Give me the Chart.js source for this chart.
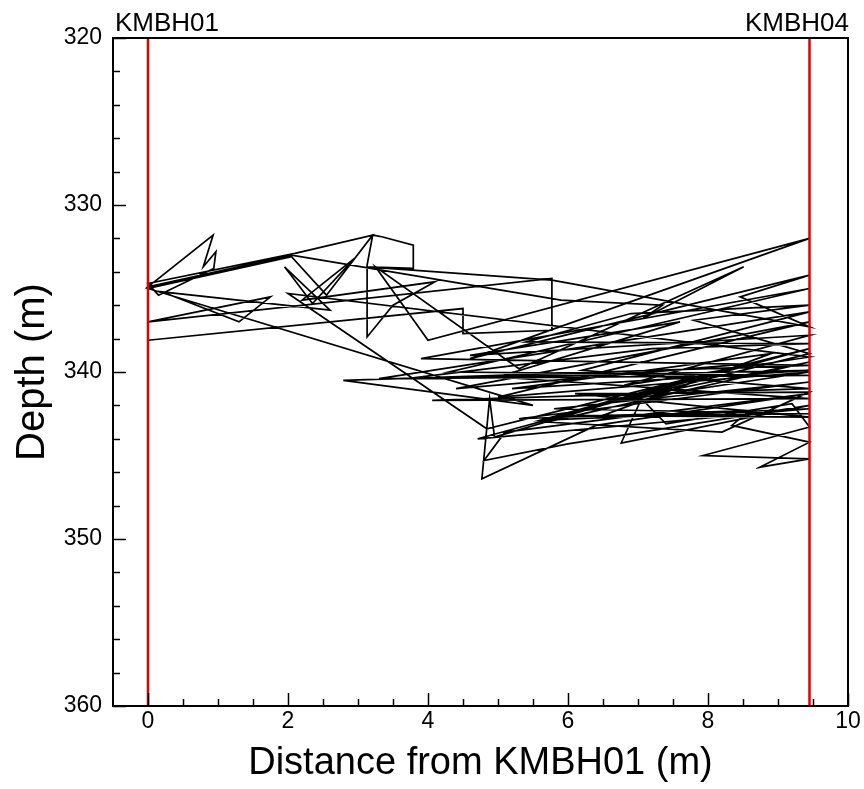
<!DOCTYPE html>
<html>
<head>
<meta charset="utf-8">
<script src="https://cdn.jsdelivr.net/npm/chart.js@4.4.1/dist/chart.umd.min.js"></script>
<style>
html,body{margin:0;padding:0;background:#fff;}
#c{display:block;}
</style>
</head>
<body>
<canvas id="c" width="864" height="789"></canvas>
<script>
// ---- data ----
const xTickValues = [0, 2, 4, 6, 8, 10];
const yTickValues = [320, 330, 340, 350, 360];
const boreholeNames = ['KMBH01', 'KMBH04'];
const boreholeX = [0, 9.45];
const depthRange = [320, 360];

const trackX = [
  0.00,4.50,4.50,5.77,5.77,0.00,1.75,1.30,0.20,2.60,
  1.95,2.35,2.95,2.20,4.10,3.50,3.13,3.13,3.21,3.34,
  3.79,3.79,3.13,5.77,9.45,8.46,9.45,4.60,9.45,4.00,
  3.25,5.30,8.51,7.07,7.35,5.90,2.05,0.00,0.93,0.79,
  0.97,0.94,0.15,0.00,2.10,3.21,2.55,2.05,0.00,5.50,
  2.79,9.45,3.90,9.45,4.30,9.45,3.30,9.45,6.20,9.45,
  4.06,9.45,5.00,7.60,4.60,9.45,6.80,9.45,2.00,4.84,
  9.45,4.71,9.45,5.60,8.10,4.95,4.88,4.77,6.40,9.45,
  5.10,4.80,6.00,9.45,6.76,7.05,7.40,9.20,9.45,7.93,
  9.45,8.74,9.45,8.34,8.60,5.30,9.45,5.80,9.45,6.50,
  8.90,5.20,9.45,3.70,7.20,9.45,5.40,6.90,9.45,7.80,
  9.45,5.90,9.45,6.10,9.45,8.20,5.70,9.45,6.60,9.45,
  5.00,9.45,4.40,8.60];
const trackDepth = [
  338.1,336.2,337.7,337.5,334.4,337.0,335.5,337.0,335.2,336.3,
  333.7,335.9,333.2,335.7,334.6,336.0,337.9,333.6,331.8,331.9,
  332.4,333.8,333.7,334.5,337.3,335.5,334.2,339.2,332.0,338.1,
  333.7,339.8,333.7,336.8,336.0,335.7,333.0,334.9,331.8,333.7,
  332.8,333.8,335.4,334.7,332.9,331.8,335.4,333.1,335.0,342.0,
  340.5,339.6,339.2,335.0,340.0,340.2,340.4,336.4,339.9,341.0,
  341.7,341.6,340.3,337.0,339.0,337.8,340.8,339.1,335.3,343.4,
  338.6,344.0,342.2,342.9,340.0,343.9,341.6,346.4,343.2,341.3,
  343.6,345.3,344.3,342.0,344.25,341.6,343.1,341.9,343.3,345.0,
  345.2,345.7,344.2,343.2,342.3,342.8,340.6,342.2,342.5,342.6,
  338.9,341.0,339.9,340.4,338.6,338.3,338.2,336.5,336.0,336.9,
  338.9,342.6,342.7,341.3,341.2,343.6,343.0,339.4,341.8,340.0,
  341.5,337.0,341.0,339.5];

// ---- build datasets ----
const trackData = trackX.map((x, i) => ({x: x, y: trackDepth[i]}));
const boreholeSets = boreholeX.map((bx, i) => ({
  label: boreholeNames[i],
  data: [{x: bx, y: depthRange[0]}, {x: bx, y: depthRange[1]}],
  borderColor: '#e00000',
  borderWidth: 2.5,
  showLine: true,
  pointRadius: 0,
  order: 0
}));

const FONT = "'Liberation Sans', Arial, sans-serif";

const decorPlugin = {
  id: 'decor',
  afterDatasetsDraw(chart) {
    const ctx = chart.ctx;
    const a = chart.chartArea;
    const xs = chart.scales.x, ys = chart.scales.y;
    ctx.save();
    ctx.strokeStyle = '#000';
    ctx.lineWidth = 1.5;
    for (let v = 0; v <= 10.001; v += 0.5) {
      const px = Math.round(xs.getPixelForValue(v)) + 0.5;
      const major = Math.abs(v / 2 - Math.round(v / 2)) < 1e-6;
      const len = major ? 13 : 7;
      ctx.beginPath();
      ctx.moveTo(px, a.bottom);
      ctx.lineTo(px, a.bottom - len);
      ctx.stroke();
    }
    for (let v = 320; v <= 360.001; v += 2) {
      const py = Math.round(ys.getPixelForValue(v)) + 0.5;
      const major = v % 10 === 0;
      const len = major ? 13 : 7;
      ctx.beginPath();
      ctx.moveTo(a.left, py);
      ctx.lineTo(a.left + len, py);
      ctx.stroke();
    }
    ctx.lineWidth = 2;
    ctx.strokeRect(a.left, a.top, a.right - a.left, a.bottom - a.top);
    ctx.fillStyle = '#000';
    ctx.font = '26px ' + FONT;
    ctx.textBaseline = 'alphabetic';
    ctx.textAlign = 'left';
    ctx.fillText(boreholeNames[0], a.left + 2, a.top - 7);
    ctx.textAlign = 'right';
    ctx.fillText(boreholeNames[1], a.right + 1, a.top - 7);
    ctx.restore();
  }
};

new Chart(document.getElementById('c'), {
  type: 'scatter',
  data: {
    datasets: boreholeSets.concat([{
      label: 'track',
      data: trackData,
      borderColor: '#000',
      borderWidth: 1.7,
      showLine: true,
      pointRadius: 0,
      tension: 0,
      order: 1
    }])
  },
  options: {
    responsive: false,
    animation: false,
    devicePixelRatio: 1,
    layout: {padding: {left: 0, top: 38, right: 16, bottom: 0}},
    plugins: {legend: {display: false}, tooltip: {enabled: false}},
    scales: {
      x: {
        type: 'linear', min: -0.5, max: 10,
        grid: {display: false, drawTicks: false},
        border: {display: false},
        afterBuildTicks: s => { s.ticks = xTickValues.map(v => ({value: v})); },
        afterFit: s => { s.height = 83; },
        ticks: {color: '#000', font: {family: FONT, size: 23}, padding: 2, autoSkip: false, maxRotation: 0},
        title: {display: true, text: 'Distance from KMBH01 (m)', color: '#000',
                font: {family: FONT, size: 38}, padding: {top: 0, bottom: 3}}
      },
      y: {
        type: 'linear', min: 320, max: 360, reverse: true,
        grid: {display: false, drawTicks: false},
        border: {display: false},
        afterBuildTicks: s => { s.ticks = yTickValues.map(v => ({value: v})); },
        afterFit: s => { s.width = 113; },
        ticks: {color: '#000', font: {family: FONT, size: 23}, padding: 11, autoSkip: false},
        title: {display: true, text: 'Depth (m)', color: '#000',
                font: {family: FONT, size: 40}, padding: {top: 9, bottom: 0}}
      }
    }
  },
  plugins: [decorPlugin]
});
</script>
</body>
</html>
